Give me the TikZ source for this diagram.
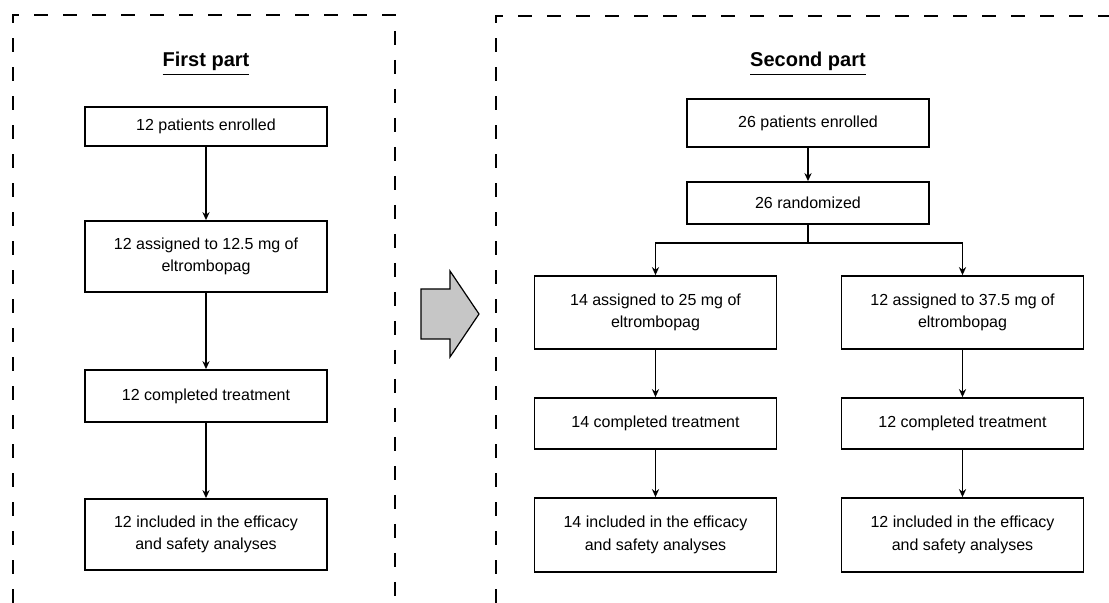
\documentclass[tikz,border=0pt]{standalone}
\usepackage{fontspec}
\setmainfont{Liberation Sans}
\usetikzlibrary{arrows.meta}

\begin{document}
\begin{tikzpicture}[x=0.5pt,y=-0.5pt,
	box/.style={draw,line width=0.9pt,minimum width=121pt,align=center,inner sep=2pt,font=\fontsize{8}{11.3}\selectfont},
	link/.style={line width=0.6pt,-{Stealth[length=4pt,width=3.6pt]}},
	frame/.style={line width=1.4pt,dash pattern=on 7pt off 7.5pt},
	title/.style={font=\fontsize{10}{12}\selectfont\bfseries,anchor=base}]
				\def\colA{206};
				\def\colB{808};
				\def\colL{655.5};
				\def\colR{962.5};
				\useasboundingbox (0,0) rectangle (1109,603);
				\draw[frame] (13,603) -- (13,15) -- (395,15) -- (395,603);
				\draw[frame] (496,603) -- (496,16) -- (1109,16);
				\node[title] (headA) at (\colA,67) {\underline{First part}};
				\node[title] (headB) at (\colB,67) {\underline{Second part}};
				\node[box,minimum height=19.5pt] (enrA) at (\colA,126.5) {12 patients enrolled};
				\node[box,minimum height=35.5pt] (asgA) at (\colA,256.5) {12 assigned to 12.5 mg of\\eltrombopag};
				\node[box,minimum height=26pt] (cmpA) at (\colA,396) {12 completed treatment};
				\node[box,minimum height=35.5pt] (incA) at (\colA,534.5) {12 included in the efficacy\\and safety analyses};
				\draw[link] (enrA) -- (asgA);
				\draw[link] (asgA) -- (cmpA);
				\draw[link] (cmpA) -- (incA);
				\draw[line width=0.6pt,fill=gray!45] (421,289) -- (450,289) -- (450,271) -- (479,314) -- (450,357) -- (450,339) -- (421,339) -- cycle;
				\node[box,minimum height=24pt] (enrB) at (\colB,123) {26 patients enrolled};
				\node[box,minimum height=21pt] (rndB) at (\colB,203) {26 randomized};
				\draw[link] (enrB) -- (rndB);
				\node[box,minimum height=36.5pt] (asgL) at (\colL,312.5) {14 assigned to 25 mg of\\eltrombopag};
				\node[box,minimum height=25.5pt] (cmpL) at (\colL,423.5) {14 completed treatment};
				\node[box,minimum height=37pt] (incL) at (\colL,535) {14 included in the efficacy\\and safety analyses};
				\node[box,minimum height=36.5pt] (asgR) at (\colR,312.5) {12 assigned to 37.5 mg of\\eltrombopag};
				\node[box,minimum height=25.5pt] (cmpR) at (\colR,423.5) {12 completed treatment};
				\node[box,minimum height=37pt] (incR) at (\colR,535) {12 included in the efficacy\\and safety analyses};
				\coordinate (split) at (\colB,243);
				\draw[line width=0.6pt] (rndB) -- (split);
				\draw[link] (split) -| (asgL);
				\draw[link] (split) -| (asgR);
				\draw[link] (asgL) -- (cmpL);
				\draw[link] (cmpL) -- (incL);
				\draw[link] (asgR) -- (cmpR);
				\draw[link] (cmpR) -- (incR);
			\end{tikzpicture}
\end{document}
